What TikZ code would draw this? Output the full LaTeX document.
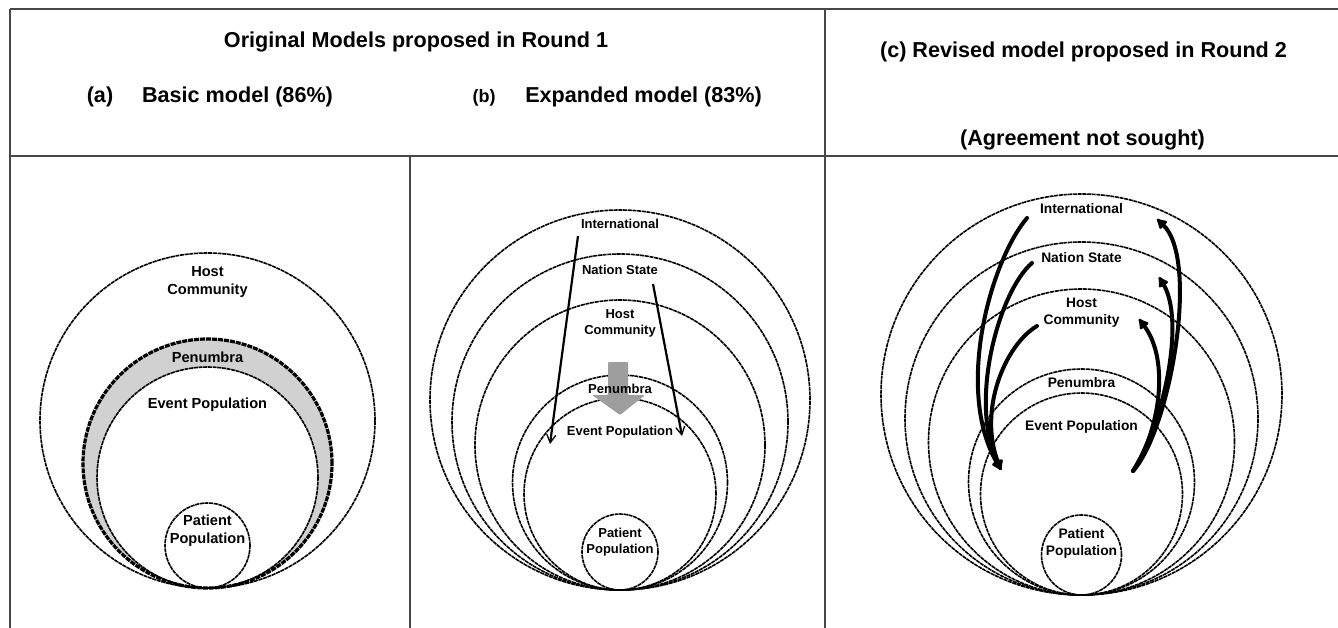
\documentclass[tikz,border=0pt]{standalone}
\usepackage{fontspec}
\setmainfont{Liberation Sans}
\usetikzlibrary{arrows.meta}

\tikzset{
  frame/.style={draw=black!72, line width=1.6pt},
  ring/.style={draw=black, line width=1.6pt, dash pattern=on 4pt off 0.7pt},
  headtxt/.style={font=\bfseries\fontsize{21.6}{26}\selectfont, inner sep=0pt},
  lbla/.style={font=\bfseries\fontsize{14.6}{18}\selectfont, align=center, inner sep=0pt},
  lblb/.style={font=\bfseries\fontsize{13}{16}\selectfont, align=center, inner sep=0pt},
  lblc/.style={font=\bfseries\fontsize{13.8}{17}\selectfont, align=center, inner sep=0pt},
  thinarrow/.style={line width=2.2pt, -{Straight Barb[length=8pt,width=9pt,line width=1.3pt]}},
  thickarrow/.style={line width=4pt, line cap=round, -{Latex[length=12pt,width=13pt,round]}},
}

\begin{document}
\begin{tikzpicture}[x=1pt,y=-1pt]
\useasboundingbox (0,0) rectangle (1338,628);
\fill[white] (0,0) rectangle (1338,628);

% table lines
\draw[frame] (10,9) -- (1338,9);
\draw[frame] (10,9) -- (10,628);
\draw[frame] (10,156) -- (1338,156);
\draw[frame] (825,9) -- (825,628);
\draw[frame] (410,156) -- (410,628);

% headings
\node[headtxt] (orig) at (416,42) {Original Models proposed in Round 1};
\node[headtxt] (tagA) at (100,97) {(a)};
\node[headtxt] (basic) at (237.5,97) {Basic model (86\%)};
\node[headtxt, font=\bfseries\fontsize{18}{22}\selectfont] (tagB) at (484,98) {(b)};
\node[headtxt] (expanded) at (643.5,97) {Expanded model (83\%)};
\node[headtxt] (revised) at (1083.5,52) {(c) Revised model proposed in Round 2};
\node[headtxt] (agree) at (1082.5,140) {(Agreement not sought)};

% (a) basic model
\fill[black!18, even odd rule] (207.5,463.5) circle (124.5pt) (207.5,477.5) circle (110.5pt);
\foreach \r in {167.5,110.5,42.5}
  \draw[ring] (207.5,{588-\r}) circle (\r pt);
\draw[ring, line width=3.2pt, dash pattern=on 5pt off 1pt] (207.5,463.5) circle (124.5pt);
\node[lbla] (hostA) at (207.5,282) {Host\\Community};
\node[lbla] (penA) at (207.5,357) {Penumbra};
\node[lbla] (eventA) at (207.5,405) {Event Population};
\node[lbla] (patA) at (207.5,531) {Patient\\Population};

% (b) expanded model
\foreach \r in {190,168,145,107.5,96,38}
  \draw[ring] (620,{590-\r}) circle (\r pt);
\fill[black!38, rounded corners=1pt] (608,362) -- (628,362) -- (628,395) -- (645,395)
  -- (620,415) -- (592,395) -- (608,395) -- cycle;
\node[lblb] (intB) at (620,224) {International};
\node[lblb] (natB) at (620,270) {Nation State};
\node[lblb] (hostB) at (620,323) {Host\\Community};
\node[lblb] (penB) at (620,389) {Penumbra};
\node[lblb] (eventB) at (620,432) {Event Population};
\node[lblb] (patB) at (620,542) {Patient\\Population};
\coordinate (fromIntB) at (578,236);
\coordinate (toIntB) at (550,444);
\coordinate (fromNatB) at (653,284);
\coordinate (toNatB) at (682,436);
\draw[thinarrow] (fromIntB) -- (toIntB);
\draw[thinarrow] (fromNatB) -- (toNatB);

% (c) revised model
\foreach \r in {200.5,176.5,153,113,101,40}
  \draw[ring] (1081.5,{595-\r}) circle (\r pt);
\node[lblc] (intC) at (1081.5,209) {International};
\node[lblc] (natC) at (1081.5,258) {Nation State};
\node[lblc] (hostC) at (1081.5,312.5) {Host\\Community};
\node[lblc] (penC) at (1081.5,383) {Penumbra};
\node[lblc] (eventC) at (1081.5,427) {Event Population};
\node[lblc] (patC) at (1081.5,543) {Patient\\Population};
\coordinate (inC) at (1001,470);
\coordinate (outC) at (1133,471);
\coordinate (intL) at (1027,218);
\coordinate (natL) at (1032,263);
\coordinate (hostL) at (1037,326);
\coordinate (intR) at (1157,219);
\coordinate (natR) at (1159,277);
\coordinate (hostR) at (1139,319);
\draw[thickarrow] (intL) .. controls (990,262) and (955,390) .. (inC);
\draw[thickarrow] (natL) .. controls (1000,290) and (968,400) .. (inC);
\draw[thickarrow] (hostL) .. controls (1005,345) and (978,410) .. (inC);
\draw[thickarrow] (outC) .. controls (1170,430) and (1200,260) .. (intR);
\draw[thickarrow] (outC) .. controls (1165,420) and (1185,320) .. (natR);
\draw[thickarrow] (outC) .. controls (1160,430) and (1170,360) .. (hostR);
\end{tikzpicture}
\end{document}
